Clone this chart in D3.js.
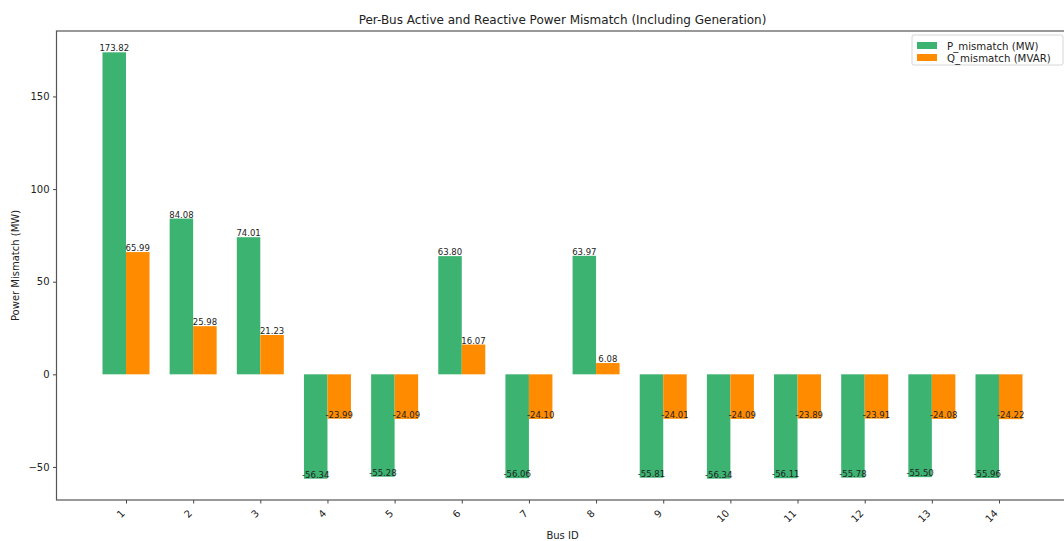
<!DOCTYPE html>
<html>
<head>
<meta charset="utf-8">
<script src="https://cdn.jsdelivr.net/npm/d3@7"></script>
<style>
  html, body { margin: 0; padding: 0; background: #fff; }
  svg { display: block; font-family: "DejaVu Sans", sans-serif; }
</style>
</head>
<body>
<svg id="chart" width="1064" height="541"></svg>
<script>
const buses = ["1","2","3","4","5","6","7","8","9","10","11","12","13","14"];
const pMismatch = [173.82, 84.08, 74.01, -56.34, -55.28, 63.80, -56.06, 63.97, -55.81, -56.34, -56.11, -55.78, -55.50, -55.96];
const qMismatch = [65.99, 25.98, 21.23, -23.99, -24.09, 16.07, -24.10, 6.08, -24.01, -24.09, -23.89, -23.91, -24.08, -24.22];
const yTicks = [-50, 0, 50, 100, 150];
const seriesNames = ["P_mismatch (MW)", "Q_mismatch (MVAR)"];
const seriesColors = ["#3CB371", "#FF8C00"];
const titleText = "Per-Bus Active and Reactive Power Mismatch (Including Generation)";
const xLabel = "Bus ID";
const yLabel = "Power Mismatch (MW)";

const svg = d3.select("#chart");
const L = 56.5, R = 1068.5, T = 31, B = 500;
const barW = 0.35;

const allVals = pMismatch.concat(qMismatch);
const vmin = Math.min(0, d3.min(allVals)), vmax = d3.max(allVals);
const pad = (vmax - vmin) * 0.05;
const y = d3.scaleLinear().domain([vmin - pad, vmax + pad]).range([B, T]);
const xmin = -barW, xmax = buses.length - 1 + barW;
const xpad = (xmax - xmin) * 0.05;
const x = d3.scaleLinear().domain([xmin - xpad, xmax + xpad]).range([L, R]);

const series = [pMismatch, qMismatch];
series.forEach((vals, si) => {
  const off = si === 0 ? -barW / 2 : barW / 2;
  const g = svg.append("g");
  g.selectAll("rect").data(vals).join("rect")
    .attr("x", (d, i) => x(i + off - barW / 2))
    .attr("width", (d, i) => x(i + off + barW / 2) - x(i + off - barW / 2))
    .attr("y", d => y(Math.max(0, d)))
    .attr("height", d => Math.abs(y(d) - y(0)))
    .attr("fill", seriesColors[si]);
  g.selectAll("text").data(vals).join("text")
    .attr("x", (d, i) => x(i + off))
    .attr("y", d => y(d) - 1)
    .attr("text-anchor", "middle")
    .attr("font-size", 8.5)
    .attr("fill", "#222")
    .text(d => d.toFixed(2));
});

// y axis
const yAxis = d3.axisLeft(y).tickValues(yTicks).tickSize(3.5).tickPadding(3.5)
  .tickFormat(d => d < 0 ? "\u2212" + Math.abs(d) : String(d));
const gy = svg.append("g").attr("transform", `translate(${L},0)`).call(yAxis);
gy.select(".domain").remove();
gy.selectAll("text").attr("font-size", 10).attr("fill", "#222").attr("font-family", "DejaVu Sans");
gy.selectAll("line").attr("stroke", "#444");

// x axis
const xAxis = d3.axisBottom(x).tickValues(d3.range(buses.length)).tickSize(3.5)
  .tickFormat(i => buses[i]);
const gx = svg.append("g").attr("transform", `translate(0,${B})`).call(xAxis);
gx.select(".domain").remove();
gx.selectAll("line").attr("stroke", "#444");
gx.selectAll("text")
  .attr("font-size", 10).attr("fill", "#222").attr("font-family", "DejaVu Sans")
  .attr("text-anchor", "end")
  .attr("y", 0).attr("dy", 0)
  .attr("transform", "translate(-1,14) rotate(-45)");

// frame
svg.append("rect").attr("x", L).attr("y", T).attr("width", R - L).attr("height", B - T)
  .attr("fill", "none").attr("stroke", "#555").attr("stroke-width", 1.2);

// title & labels
svg.append("text").attr("x", (L + R) / 2).attr("y", 24).attr("text-anchor", "middle")
  .attr("font-size", 12).attr("fill", "#222").text(titleText);
svg.append("text").attr("x", (L + R) / 2).attr("y", 539).attr("text-anchor", "middle")
  .attr("font-size", 10).attr("fill", "#222").text(xLabel);
svg.append("text").attr("transform", `translate(19,${(T + B) / 2}) rotate(-90)`)
  .attr("text-anchor", "middle").attr("font-size", 10).attr("fill", "#222").text(yLabel);

// legend
const lg = svg.append("g").attr("transform", "translate(912,35)");
lg.append("rect").attr("width", 151).attr("height", 30).attr("rx", 2)
  .attr("fill", "#fff").attr("stroke", "#ccc").attr("stroke-width", 0.8);
seriesNames.forEach((n, i) => {
  lg.append("rect").attr("x", 5).attr("y", 7 + i * 12).attr("width", 20).attr("height", 7)
    .attr("fill", seriesColors[i]);
  lg.append("text").attr("x", 35).attr("y", 14.5 + i * 12).attr("font-size", 10.2)
    .attr("fill", "#222").text(n);
});
</script>
</body>
</html>
